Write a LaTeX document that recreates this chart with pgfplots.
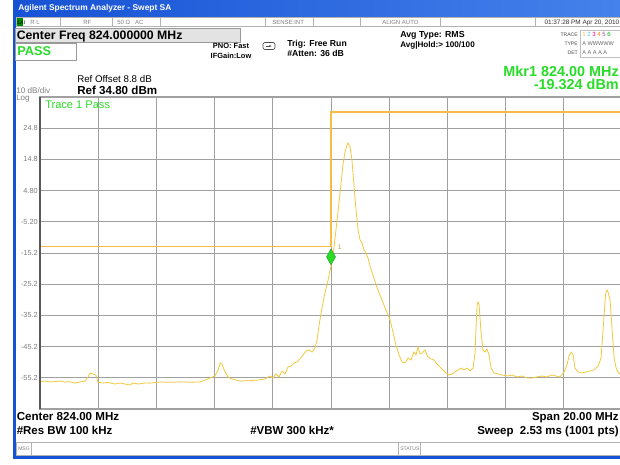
\documentclass[border=0pt]{standalone}
\usepackage{pgfplots}
\pgfplotsset{compat=1.18}
\usetikzlibrary{arrows.meta}
\usepackage{fontspec}
\setmainfont{Liberation Sans}
\definecolor{trace}{RGB}{242,200,60}
\definecolor{limitc}{RGB}{247,188,70}
\definecolor{mkgreen}{RGB}{40,220,40}
\definecolor{xpblue}{RGB}{22,82,212}
\definecolor{xplight}{RGB}{70,130,235}
\definecolor{gridgray}{RGB}{160,160,160}
\newcommand{\fs}[1]{\fontsize{#1}{#1}\selectfont}
\begin{document}
\begin{tikzpicture}[x=0.75pt,y=-0.75pt]
\useasboundingbox (0,0) rectangle (620,464);
\clip (0,0) rectangle (620,464);
\fill[white] (0,0) rectangle (620,464);
% window title bar and border
\shade[left color=xpblue, right color=xplight] (13,0) rectangle (620,17);
\node[anchor=base west, inner sep=0, text=white, font=\fs{6.3pt}\bfseries] at (18,11) {Agilent Spectrum Analyzer - Swept SA};
\fill[xpblue] (13,17) rectangle (16,459);
\fill[xpblue] (13,456) rectangle (620,459);
% status row
\draw[gray!60, fill=white] (16,17.5) rectangle (621,26);
\foreach \sx in {60,112,160,265,313,360,440,535} \draw[gray!60] (\sx,17.5) -- (\sx,26);
\fill[green!55!black] (16.5,18) rectangle (23,25.5);
\node[anchor=base west, inner sep=0, font=\fs{4pt}, text=black] at (17,24) {LXI};
\node[anchor=base west, inner sep=0, font=\fs{4.5pt}, text=gray] at (30,24) {R L};
\node[anchor=base west, inner sep=0, font=\fs{4.5pt}, text=gray] at (83,24) {RF};
\node[anchor=base west, inner sep=0, font=\fs{4.5pt}, text=gray] at (117,24) {50 Ω \ \ AC};
\node[anchor=base west, inner sep=0, font=\fs{4.5pt}, text=gray] at (272,24) {SENSE:INT};
\node[anchor=base west, inner sep=0, font=\fs{4.5pt}, text=gray] at (382,24) {ALIGN AUTO};
\node[anchor=base east, inner sep=0, font=\fs{4.8pt}, text=black!80] at (619.5,24) {01:37:28 PM Apr 20, 2010};
% center freq box
\draw[gray!80, fill=gray!22] (15,28) rectangle (240,42);
\node[anchor=base west, inner sep=0, font=\fs{9.2pt}\bfseries] at (16.5,39) {Center Freq 824.000000 MHz};
\draw[gray!80, fill=white] (15,43) rectangle (76,60);
\node[anchor=base west, inner sep=0, font=\fs{9.6pt}\bfseries, text=mkgreen] at (17,55.5) {PASS};
\node[anchor=base, inner sep=0, font=\fs{5.6pt}\bfseries] at (231,48) {PNO: Fast};
\node[anchor=base, inner sep=0, font=\fs{5.6pt}\bfseries] at (231,58) {IFGain:Low};
\draw[black!70, rounded corners=1.5pt, line width=0.5pt] (263,42.5) rectangle (275,49.5);
\draw[black!70, line width=0.5pt,-{Latex[length=2pt]}] (266,46) -- (272,46);
\node[anchor=base west, inner sep=0, font=\fs{6.5pt}\bfseries] at (287,46) {Trig: Free Run};
\node[anchor=base west, inner sep=0, font=\fs{6.5pt}\bfseries] at (287,56) {\#Atten: 36 dB};
\node[anchor=base west, inner sep=0, font=\fs{6.6pt}\bfseries] at (400,37) {Avg Type: RMS};
\node[anchor=base west, inner sep=0, font=\fs{6.1pt}\bfseries] at (400,47) {Avg|Hold:> 100/100};
% trace/type/det
\node[anchor=base east, inner sep=0, font=\fs{3.8pt}, text=black!70] at (578,36) {TRACE};
\node[anchor=base east, inner sep=0, font=\fs{3.8pt}, text=black!70] at (578,45) {TYPE};
\node[anchor=base east, inner sep=0, font=\fs{3.8pt}, text=black!70] at (578,54) {DET};
\draw[gray!50] (580,30) rectangle (622,57);
\node[anchor=base west, inner sep=0, font=\fs{4.5pt}] at (582,36) {\textcolor{trace}{1} \textcolor{cyan!70}{2} \textcolor{magenta}{3} \textcolor{orange}{4} \textcolor{violet!70}{5} \textcolor{green!70!black}{6}};
\node[anchor=base west, inner sep=0, font=\fs{4.2pt}, text=black!60] at (582,45) {A WWWWW};
\node[anchor=base west, inner sep=0, font=\fs{4.2pt}, text=black!60] at (582,54) {A A A A A};
% marker readout
\node[anchor=base east, inner sep=0, font=\fs{10.8pt}\bfseries, text=mkgreen] at (619,76) {Mkr1 824.00 MHz};
\node[anchor=base east, inner sep=0, font=\fs{10.8pt}\bfseries, text=mkgreen] at (619,89) {-19.324 dBm};
% ref info
\node[anchor=base west, inner sep=0, font=\fs{7.3pt}] at (77,82) {Ref Offset 8.8 dB};
\node[anchor=base west, inner sep=0, font=\fs{8.7pt}\bfseries] at (77,94) {Ref 34.80 dBm};
\node[anchor=base west, inner sep=0, font=\fs{6.1pt}, text=gray] at (16,93) {10 dB/div};
\node[anchor=base west, inner sep=0, font=\fs{6pt}, text=gray] at (16,100) {Log};
% plot
\coordinate (ll) at (40,409);
\begin{axis}[at={(ll)}, anchor=south west, scale only axis,
  width=436.5pt, height=234pt,
  xmin=814, xmax=834, ymin=-65.2, ymax=34.8,
  xtick={814,816,818,820,822,824,826,828,830,832,834}, xticklabels={},
  ytick={-55.2,-45.2,-35.2,-25.2,-15.2,-5.2,4.8,14.8,24.8},
  yticklabels={-55.2,-45.2,-35.2,-25.2,-15.2,-5.20,4.80,14.8,24.8},
  yticklabel style={font=\fs{5.5pt}, text=gray, inner sep=1.5pt},
  grid=major, major grid style={gridgray, line width=0.6pt},
  major tick length=0pt,
  axis line style={gridgray, line width=0.8pt},
  axis background/.style={fill=white},
  clip=true]
\addplot[limitc, line width=0.8pt] coordinates {(814,-13) (824,-13) (824,30) (834,30)};
\addplot[trace, line width=0.6pt] coordinates {
(814.00,-56.55) (814.17,-56.23) (814.34,-56.55) (814.52,-56.40) (814.69,-56.23) (814.86,-56.55)
(815.03,-56.45) (815.20,-56.87) (815.37,-56.55) (815.55,-56.23) (815.65,-54.94) (815.72,-53.66)
(815.82,-53.98) (815.92,-54.30) (815.99,-56.55) (816.13,-56.87) (816.34,-56.70) (816.58,-57.19)
(816.75,-56.87) (816.92,-57.19) (817.09,-57.51) (817.20,-56.87) (817.37,-57.19) (817.61,-56.87)
(817.78,-56.90) (818.12,-56.55) (818.47,-56.65) (818.81,-56.50) (819.15,-56.60) (819.50,-56.55)
(819.67,-55.91) (819.84,-55.26) (820.01,-54.62) (820.12,-52.70) (820.19,-50.46) (820.25,-50.78)
(820.36,-53.34) (820.46,-54.94) (820.60,-55.58) (820.87,-56.23) (821.22,-56.10) (821.49,-55.91)
(821.73,-55.58) (821.90,-54.62) (822.01,-55.26) (822.11,-53.98) (822.21,-54.94) (822.32,-53.02)
(822.42,-53.98) (822.52,-51.74) (822.63,-51.42) (822.73,-50.46) (822.83,-50.14) (822.93,-49.17)
(823.04,-47.89) (823.14,-46.61) (823.24,-46.29) (823.35,-46.93) (823.45,-45.65) (823.52,-43.08)
(823.59,-38.28) (823.69,-32.83) (823.79,-28.02) (823.90,-23.85) (824.00,-19.32) (824.10,-13.60)
(824.21,-4.62) (824.31,4.03) (824.41,13.01) (824.48,17.17) (824.55,19.42) (824.58,20.06)
(824.65,19.09) (824.72,14.61) (824.79,6.59) (824.86,-1.42) (824.93,-7.83) (825.00,-11.03)
(825.07,-11.99) (825.13,-14.24) (825.20,-15.20) (825.27,-16.80) (825.34,-19.37) (825.44,-22.25)
(825.55,-25.46) (825.68,-28.66) (825.82,-31.87) (825.92,-34.11) (826.03,-36.67) (826.13,-40.52)
(826.23,-44.69) (826.34,-47.89) (826.44,-50.14) (826.54,-50.46) (826.65,-48.85) (826.75,-49.49)
(826.85,-46.93) (826.92,-47.89) (826.99,-45.33) (827.06,-47.57) (827.13,-47.25) (827.23,-46.29)
(827.33,-48.53) (827.44,-49.17) (827.54,-49.49) (827.64,-50.78) (827.75,-51.74) (827.85,-52.70)
(827.95,-53.66) (828.05,-54.30) (828.16,-53.98) (828.26,-53.34) (828.36,-52.70) (828.47,-52.06)
(828.57,-52.70) (828.67,-52.06) (828.78,-53.02) (828.88,-52.06) (828.95,-47.25) (828.98,-39.88)
(829.02,-31.87) (829.05,-30.91) (829.09,-31.87) (829.15,-39.88) (829.22,-46.29) (829.29,-46.93)
(829.36,-45.97) (829.43,-47.89) (829.50,-52.06) (829.60,-53.66) (829.74,-53.98) (829.88,-54.30)
(830.05,-54.62) (830.22,-54.30) (830.39,-54.94) (830.56,-54.62) (830.74,-55.26) (830.91,-55.26)
(831.08,-54.94) (831.25,-54.62) (831.42,-54.94) (831.59,-54.30) (831.73,-54.62) (831.87,-54.94)
(832.01,-53.34) (832.11,-51.10) (832.18,-48.21) (832.25,-46.93) (832.32,-47.89) (832.38,-52.06)
(832.49,-53.34) (832.63,-53.66) (832.76,-53.34) (832.90,-53.02) (833.04,-52.70) (833.18,-51.42)
(833.28,-48.85) (833.35,-39.88) (833.42,-30.26) (833.45,-27.70) (833.48,-27.06) (833.52,-27.70)
(833.59,-30.26) (833.66,-39.88) (833.73,-48.85) (833.79,-51.74) (833.86,-53.34) (833.93,-53.98)
(834.00,-54.30)};
\addplot[only marks, mark=diamond*, mark size=6pt,
  mark options={fill=mkgreen, draw=mkgreen!70!black, line width=0.3pt, xscale=0.75, yshift=6.75pt}]
  coordinates {(824,-19.324)};
\node[font=\fs{5pt}, text=trace!80!black, inner sep=0] at (axis cs:824.3,-13.2) {1};
\end{axis}
\draw[black!65, line width=1pt] (40,97) -- (40,409);
\node[anchor=base west, inner sep=0, font=\fs{8.3pt}, text=mkgreen] at (45,108) {Trace 1 Pass};
% bottom annotations
\node[anchor=base west, inner sep=0, font=\fs{8.7pt}\bfseries] at (16.5,420) {Center 824.00 MHz};
\node[anchor=base west, inner sep=0, font=\fs{8.6pt}\bfseries] at (16.5,434) {\#Res BW 100 kHz};
\node[anchor=base west, inner sep=0, font=\fs{8.6pt}\bfseries] at (250,434) {\#VBW 300 kHz*};
\node[anchor=base east, inner sep=0, font=\fs{8.6pt}\bfseries] at (619,420) {Span 20.00 MHz};
\node[anchor=base east, inner sep=0, font=\fs{8.6pt}\bfseries] at (619,434) {Sweep\ \ 2.53 ms (1001 pts)};
% message bar
\draw[gray!60, fill=white] (16,442) rectangle (621,455);
\draw[gray!60] (31,442) -- (31,455);
\draw[gray!60] (398,442) -- (398,455);
\draw[gray!60] (420,442) -- (420,455);
\node[anchor=base west, inner sep=0, font=\fs{3.8pt}, text=gray] at (18,450) {MSG};
\node[anchor=base west, inner sep=0, font=\fs{3.8pt}, text=gray] at (400,450) {STATUS};
\end{tikzpicture}
\end{document}
